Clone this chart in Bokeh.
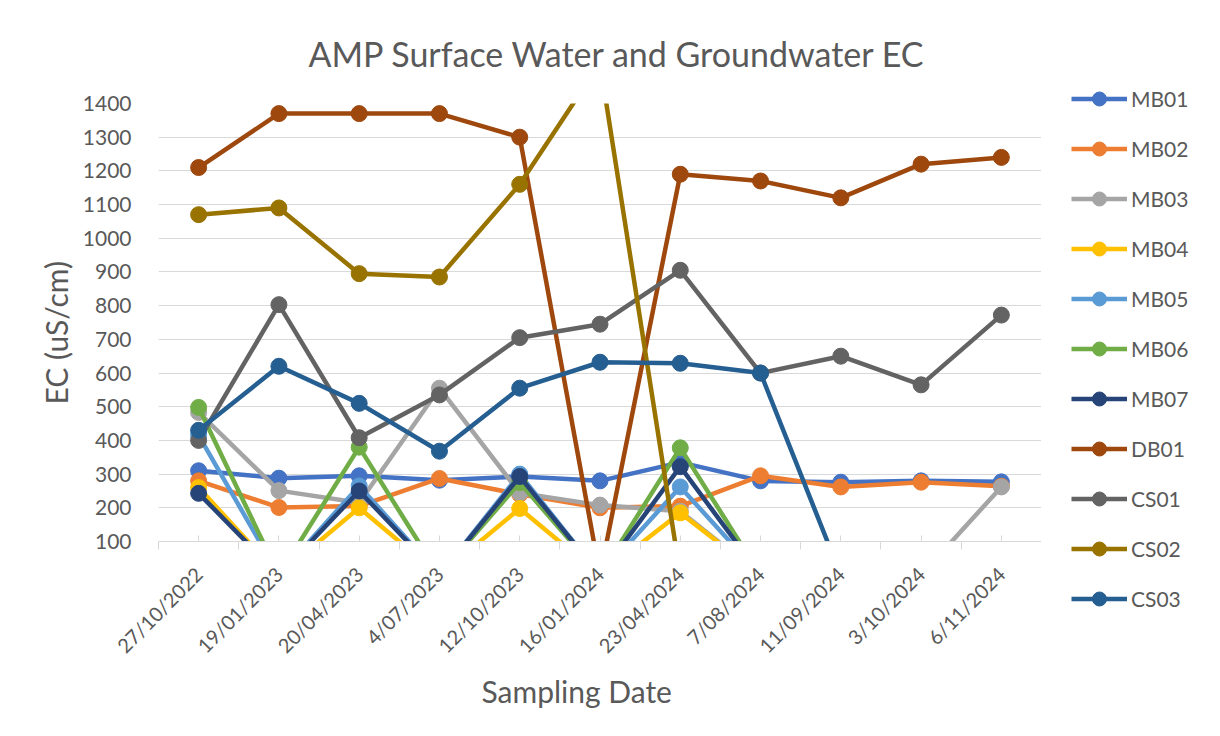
import math
from bokeh.plotting import figure
from bokeh.layouts import row
from bokeh.models import (Range1d, FactorRange, CategoricalAxis, LinearAxis, FixedTicker,
                          Legend, LegendItem, Title, ColumnDataSource, CustomLabelingPolicy)
from bokeh.embed import file_html
from bokeh.resources import INLINE

# ---------------- data ----------------
dates = ["27/10/2022", "19/01/2023", "20/04/2023", "4/07/2023", "12/10/2023", "16/01/2024",
         "23/04/2024", "7/08/2024", "11/09/2024", "3/10/2024", "6/11/2024"]
y_ticks = [100, 200, 300, 400, 500, 600, 700, 800, 900, 1000, 1100, 1200, 1300, 1400]

names = ["MB01", "MB02", "MB03", "MB04", "MB05", "MB06", "MB07", "DB01", "CS01", "CS02", "CS03"]
MB01 = [310, 288, 295, 282, 293, 280, 335, 280, 276, 280, 277]
MB02 = [280, 201, 205, 287, 240, 200, 205, 295, 262, 276, 264]
MB03 = [483, 251, 215, 555, 244, 208, 190, 0, 0, 0, 262]
MB04 = [260, 0, 200, 0, 198, 0, 185, 0, 0, 0, 0]
MB05 = [415, 0, 265, 0, 300, 0, 262, 0, 0, 0, 0]
MB06 = [498, 0, 380, 0, 275, 0, 378, 0, 0, 0, 0]
MB07 = [243, 0, 250, 0, 293, 0, 322, 0, 0, 0, 0]
DB01 = [1210, 1370, 1370, 1370, 1300, 0, 1190, 1170, 1120, 1220, 1240]
CS01 = [400, 803, 408, 535, 705, 745, 905, 600, 650, 565, 772]
CS02 = [1070, 1090, 895, 885, 1160, 1520, 0, 0, 0, 0, 0]
CS03 = [430, 620, 510, 368, 555, 632, 629, 600, 0, 0, 0]
series = [MB01, MB02, MB03, MB04, MB05, MB06, MB07, DB01, CS01, CS02, CS03]

colors = ["#4472C4", "#ED7D31", "#A5A5A5", "#FFC000", "#5B9BD5", "#70AD47",
          "#264478", "#9E480E", "#636363", "#997300", "#255E91"]

FONT = "Lato"
TXT = "#595959"
GRID = "#d9d9d9"

p = figure(width=1041, height=720,
           x_range=FactorRange(factors=dates, range_padding=0),
           y_range=Range1d(100, 1400),
           output_backend="svg", toolbar_location=None,
           x_axis_location=None, y_axis_location="left",
           min_border_left=158, min_border_right=0,
           min_border_top=103, min_border_bottom=179,
           background_fill_color="white", border_fill_color="white",
           outline_line_color=None, frame_align=False)

# title
p.title.text = "AMP Surface Water and Groundwater EC"
p.title.align = "left"
p.title.offset = 150
p.title.standoff = 59
p.title.text_font = FONT
p.title.text_font_size = "34px"
p.title.text_font_style = "normal"
p.title.text_color = TXT

# y axis
p.yaxis.ticker = FixedTicker(ticks=y_ticks)
p.yaxis.axis_line_color = None
p.yaxis.major_tick_line_color = None
p.yaxis.minor_tick_line_color = None
p.yaxis.major_label_standoff = 21
p.yaxis.major_label_text_font = FONT
p.yaxis.major_label_text_font_size = "21px"
p.yaxis.major_label_text_color = TXT

for g in p.grid:
    if g.dimension == 0:
        g.visible = False
    else:
        g.ticker = FixedTicker(ticks=y_ticks)
        g.grid_line_color = GRID
        g.grid_line_width = 1

# boundary tick axis (closest to frame), on the synthetic category coordinates
n = len(dates)
bax = LinearAxis(ticker=FixedTicker(ticks=list(range(n + 1)),
                                    minor_ticks=[i + 0.5 for i in range(n)]),
                 axis_line_color=GRID, axis_line_width=1,
                 major_tick_line_color=GRID, major_tick_out=8, major_tick_in=0,
                 minor_tick_line_color=GRID, minor_tick_in=6, minor_tick_out=0,
                 major_label_policy=CustomLabelingPolicy(
                     code="for (const i of indices) indices.unset(i); return indices"),
                 major_label_text_font_size="0px",
                 major_label_standoff=0)
p.add_layout(bax, "below")

cax = CategoricalAxis(axis_line_color=None, major_tick_line_color=None,
                      minor_tick_line_color=None,
                      major_label_orientation=math.pi / 4,
                      major_label_text_font=FONT,
                      major_label_text_font_size="20px",
                      major_label_text_color=TXT,
                      major_label_standoff=15)
p.add_layout(cax, "below")

p.add_layout(Title(text="Sampling Date", align="left", offset=323, standoff=4,
                   text_font=FONT, text_font_size="30px", text_font_style="normal",
                   text_color=TXT), "below")
p.add_layout(Title(text="EC (uS/cm)", align="left", offset=137, standoff=12,
                   text_font=FONT, text_font_size="30px", text_font_style="normal",
                   text_color=TXT), "left")

sources = []
for vals, col in zip(series, colors):
    src = ColumnDataSource(dict(x=dates, y=vals))
    sources.append(src)
    p.line("x", "y", source=src, line_color=col, line_width=4.5, line_join="round")
    p.scatter("x", "y", source=src, marker="circle", size=16,
              fill_color=col, line_color=col)

# legend panel to the right of the plot area (hidden copies of the series feed the legend)
pl = figure(width=163, height=720, x_range=p.x_range, y_range=p.y_range,
            output_backend="svg", toolbar_location=None,
            x_axis_location=None, y_axis_location=None,
            min_border=0, outline_line_color=None, frame_align=False,
            background_fill_color="white", border_fill_color="white")
pl.grid.visible = False
items = []
for name, src, col in zip(names, sources, colors):
    l = pl.line("x", "y", source=src, line_color=col, line_width=4.5, visible=False)
    s = pl.scatter("x", "y", source=src, marker="circle", size=16,
                   fill_color=col, line_color=col, visible=False)
    items.append(LegendItem(label=name, renderers=[l, s]))

legend = Legend(items=items, location=(30, 104), orientation="vertical",
                glyph_width=56, glyph_height=35, label_height=35, spacing=15,
                padding=0, margin=0, label_standoff=4,
                border_line_color=None, background_fill_alpha=0,
                inactive_fill_alpha=0,
                label_text_font=FONT, label_text_font_size="21px",
                label_text_color=TXT, label_text_baseline="middle")
pl.add_layout(legend)

layout = row(p, pl, spacing=0)
open("out.html", "w").write(file_html(layout, INLINE))
